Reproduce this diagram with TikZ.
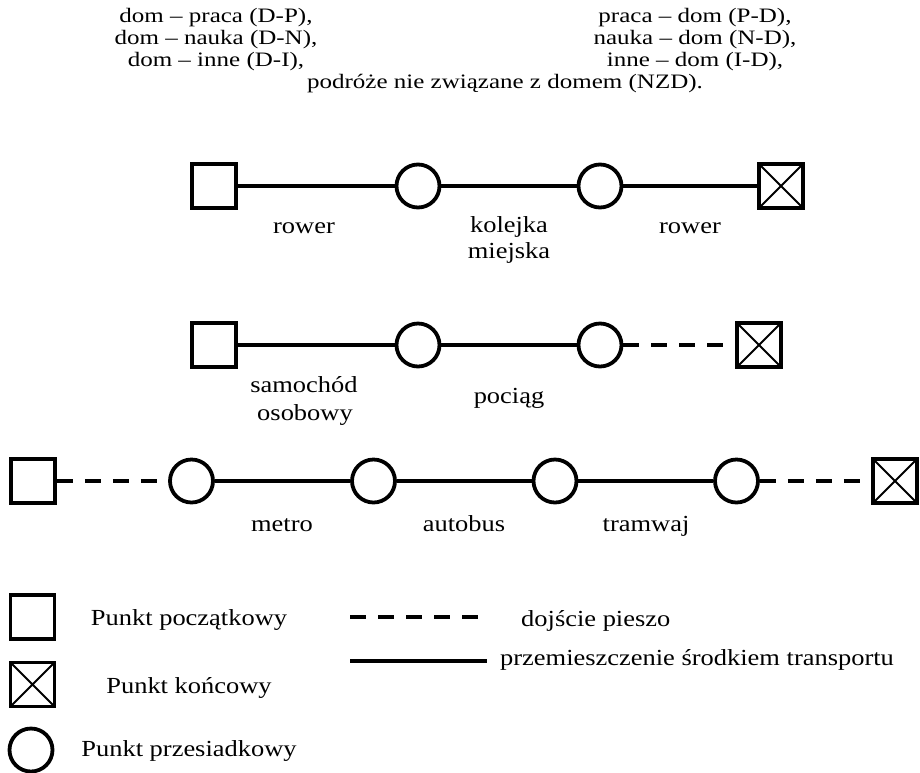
\documentclass[tikz,border=0pt]{standalone}
\usepackage{fontspec}
\setmainfont[FakeStretch=1.15]{Liberation Serif}
\newfontfamily\headfont[FakeStretch=1.22, Ligatures=TeX]{Liberation Serif}
\begin{document}
\begin{tikzpicture}[x=1pt,y=-1pt,
  every node/.style={font=\fontsize{23}{26}\selectfont},
  lbl/.style={anchor=base, inner sep=0pt},
  head/.style={lbl, font=\headfont\fontsize{20.5}{22}\selectfont},
  startpt/.style={draw, line width=3.8pt, minimum size=44pt, inner sep=0pt, rectangle},
  endpt/.style={startpt, path picture={
      \draw[line width=2pt] (path picture bounding box.south west) -- (path picture bounding box.north east)
                            (path picture bounding box.north west) -- (path picture bounding box.south east);}},
  transfer/.style={draw, line width=3.8pt, minimum size=43pt, inner sep=0pt, circle},
  ride/.style={line width=4pt},
  walk/.style={line width=4pt, dash pattern=on 16pt off 12pt},
]
\useasboundingbox (0,0) rectangle (920,772);

% trip categories
\node[head] (dp) at (216,22) {dom – praca (D-P),};
\node[head] (dn) at (216,44) {dom – nauka (D-N),};
\node[head] (di) at (216,66) {dom – inne (D-I),};
\node[head] (pd) at (695,22) {praca – dom (P-D),};
\node[head] (nd) at (695,44) {nauka – dom (N-D),};
\node[head] (id) at (695,66) {inne – dom (I-D),};
\node[head] (nzd) at (505,88) {podróże nie związane z domem (NZD).};

% chain 1
\node[startpt] (a0) at (214,186) {};
\node[transfer] (a1) at (418,186) {};
\node[transfer] (a2) at (600,186) {};
\node[endpt] (a3) at (781,186) {};
\draw[ride] (a0) -- (a1);
\draw[ride] (a1) -- (a2);
\draw[ride] (a2) -- (a3);
\node[lbl] (a01) at (304,233) {rower};
\node[lbl] (a12a) at (509,232) {kolejka};
\node[lbl] (a12b) at (509,258) {miejska};
\node[lbl] (a23) at (690,233) {rower};

% chain 2
\node[startpt] (b0) at (214,345) {};
\node[transfer] (b1) at (418,345) {};
\node[transfer] (b2) at (600,345) {};
\node[endpt] (b3) at (759,345) {};
\draw[ride] (b0) -- (b1);
\draw[ride] (b1) -- (b2);
\draw[walk] (b2) -- (b3);
\node[lbl] (b01a) at (304,392) {samochód};
\node[lbl] (b01b) at (305,420) {osobowy};
\node[lbl] (b12) at (509,403) {pociąg};

% chain 3
\node[startpt] (c0) at (33,481) {};
\node[transfer] (c1) at (191.5,481) {};
\node[transfer] (c2) at (373.5,481) {};
\node[transfer] (c3) at (555,481) {};
\node[transfer] (c4) at (736.5,481) {};
\node[endpt] (c5) at (895,481) {};
\draw[walk] (c0) -- (c1);
\draw[ride] (c1) -- (c2);
\draw[ride] (c2) -- (c3);
\draw[ride] (c3) -- (c4);
\draw[walk] (c4) -- (c5);
\node[lbl] (c12) at (282,531) {metro};
\node[lbl] (c23) at (464,531) {autobus};
\node[lbl] (c34) at (646,531) {tramwaj};

% legend
\node[startpt] (ls) at (32.5,617) {};
\node[endpt] (le) at (32.5,684.5) {};
\node[transfer] (lt) at (31,750) {};
\node[lbl] (lst) at (189,625) {Punkt początkowy};
\node[lbl] (let) at (189,693) {Punkt końcowy};
\node[lbl] (ltt) at (189,756) {Punkt przesiadkowy};
\coordinate (w0) at (350,617);
\coordinate (w1) at (478,617);
\coordinate (r0) at (350,661);
\coordinate (r1) at (487,661);
\draw[walk] (w0) -- (w1);
\draw[ride] (r0) -- (r1);
\node[lbl, anchor=base west] (lw) at (521,626) {dojście pieszo};
\node[lbl, anchor=base west] (lr) at (500,665) {przemieszczenie środkiem transportu};
\end{tikzpicture}
\end{document}
